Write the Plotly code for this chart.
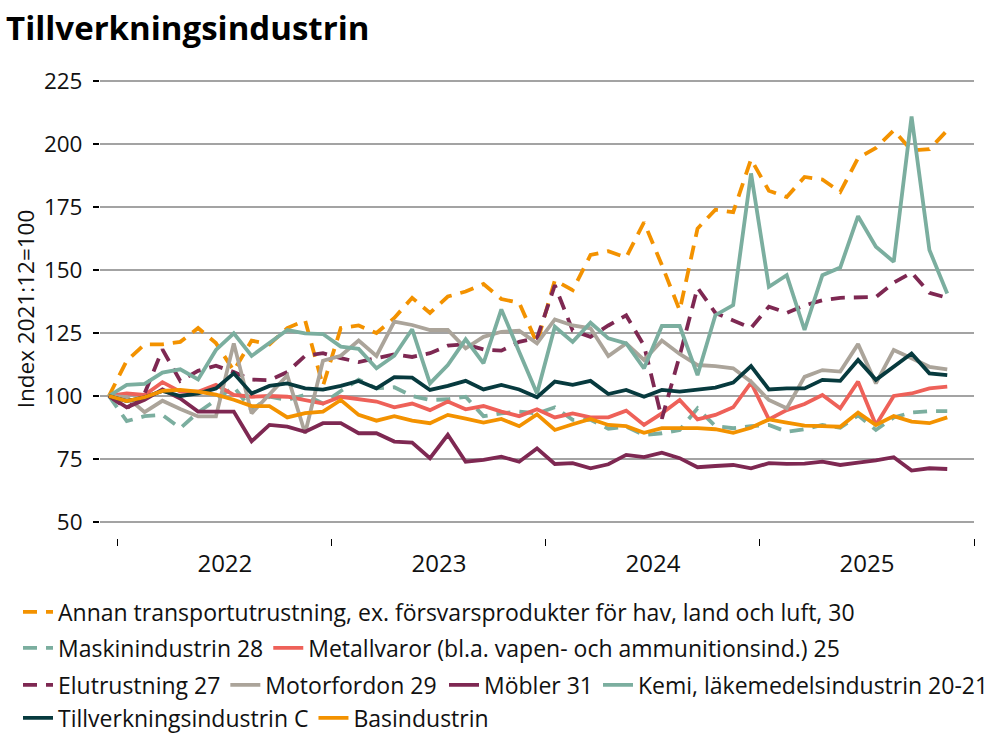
import plotly.graph_objects as go

# ---------------- data ----------------
months = ["2021:12"] + [f"{y}:{m:02d}" for y in range(2022, 2026) for m in range(1, 13)]
years = ["2022", "2023", "2024", "2025"]

annan = [100, 114, 120.5, 120.5, 121.5, 127, 121, 110, 122, 120.5,
         127, 130, 104, 127, 128, 125, 131, 139, 133, 139.5,
         141.5, 144.5, 138.5, 137, 121, 146, 142, 156, 157.5, 155,
         169, 152, 134, 166.5, 174, 173, 194, 181.5, 179, 187,
         186, 181, 194.5, 198.5, 205.5, 197.5, 198, 205.5]
maskin = [100, 90, 92, 92.5, 87.2, 93.5, 98.4, 103.7, 94.4, 99.7,
          98.4, 100.5, 97, 102, 106.5, 103, 103.5, 100, 98.4, 98.7,
          99.7, 92, 93.1, 93.8, 93.1, 95.5, 90.5, 90.5, 87, 87.8,
          84.5, 85.2, 86.5, 95.1, 88, 87.2, 88, 88.5, 85.8, 86.8,
          88.5, 87.4, 92.3, 86.5, 91.5, 93.4, 94, 94]
metall = [100, 101, 100.4, 105.5, 101.7, 101.7, 104.4, 100.4, 99.7, 100,
          99.7, 98.4, 97, 99.7, 98.7, 97.8, 95.5, 97, 94.4, 97.8,
          94.7, 96, 93.8, 92, 94.7, 91.5, 93.1, 91.5, 91.5, 94.2,
          88.5, 93.1, 98.4, 90.7, 92.5, 95.5, 105.3, 90.7, 94.4, 96.8,
          100.4, 95.1, 105.7, 88.5, 100, 101, 103, 103.7]
elut = [100, 95, 101, 118.5, 106, 110, 112, 109.5, 106.5, 106.3,
        109.5, 116, 117, 115, 113.5, 115, 116.5, 115.5, 117, 120,
        120.5, 118.5, 118, 121.5, 123, 144, 126, 123.5, 128, 132,
        120, 91, 116, 143, 133, 130, 127, 135.5, 133, 136,
        138, 139, 139, 139.3, 145, 149, 141, 139]
motor = [100, 99.6, 93.6, 98.1, 94.8, 91.9, 91.9, 120.9, 93.1, 100.4,
         108.2, 85.2, 114, 116, 122, 115.9, 129.5, 128.2, 126.2, 126.2,
         118.9, 123.5, 125.5, 125.9, 120.9, 130.4, 128, 126.9, 115.9, 120.9,
         114.3, 122, 116.7, 112.3, 111.9, 111, 105.7, 98.4, 95.1, 107.6,
         110.3, 109.7, 120.6, 105, 118.3, 115, 111.6, 110.6]
mobler = [100, 95.5, 98.5, 102.6, 99, 93.8, 93.8, 93.8, 82, 88.5,
          87.8, 85.8, 89.2, 89.2, 85.2, 85.2, 81.9, 81.5, 75.3, 84.6,
          73.9, 74.6, 75.9, 73.9, 79.2, 73, 73.3, 71.3, 72.9, 76.6,
          75.7, 77.5, 75.3, 71.7, 72.2, 72.6, 71.3, 73.3, 73, 73.1,
          73.9, 72.6, 73.5, 74.4, 75.7, 70.4, 71.3, 71]
kemi = [100, 104.4, 104.8, 109.3, 110.6, 106.6, 118.3, 124.9, 115.9, 120.9,
        126.2, 124.9, 124.6, 119.6, 118.7, 111, 116, 126.5, 105, 112.3,
        122.5, 113, 134.4, 117.6, 101, 127.5, 121.5, 129.1, 122.9, 120.9,
        111, 127.8, 127.8, 108.3, 132.1, 136.1, 188.4, 143.4, 148, 126.2,
        148, 151, 171.4, 159.3, 153.3, 211, 158, 140.7]
till = [100, 98, 99.5, 102, 100, 101, 103, 109, 101, 104,
        105, 103, 102.5, 104, 106, 103, 107.5, 107.3, 102.4, 104,
        106, 102.6, 104.4, 102.6, 99.5, 105.7, 104.4, 106, 100.8, 102.4,
        99.7, 102.4, 101.7, 102.6, 103.3, 105.3, 111.9, 102.6, 103, 103,
        106.4, 106, 114.3, 106.4, 111.6, 116.9, 109, 108.3]
basin = [100, 98, 99.5, 102, 102.4, 101.7, 100.5, 98.5, 96, 96,
         91.5, 93.2, 93.8, 98.4, 92.5, 90.2, 92, 90.2, 89.2, 92.5,
         91, 89.4, 90.9, 88, 92.7, 86.5, 88.8, 90.9, 88.5, 88,
         85.4, 87.2, 87.2, 87.2, 86.8, 85.4, 87.4, 90.7, 89.4, 88.2,
         88, 87.8, 93.4, 88.5, 92, 89.8, 89.2, 91.5]

names = [
    "Annan transportutrustning, ex. försvarsprodukter för hav, land och luft, 30",
    "Maskinindustrin 28",
    "Metallvaror (bl.a. vapen- och ammunitionsind.) 25",
    "Elutrustning 27",
    "Motorfordon 29",
    "Möbler 31",
    "Kemi, läkemedelsindustrin 20-21",
    "Tillverkningsindustrin C",
    "Basindustrin",
]
values = [annan, maskin, metall, elut, motor, mobler, kemi, till, basin]
y_ticks = [50, 75, 100, 125, 150, 175, 200, 225]

# ---------------- styles ----------------
ORANGE = "#F39200"
TEAL = "#7BAE9F"
SALMON = "#EE6159"
PLUM = "#7E2852"
GREY = "#ABA49A"
DARK = "#073A3E"
DASH = "14px,9px"
colors = [ORANGE, TEAL, SALMON, PLUM, GREY, PLUM, TEAL, DARK, ORANGE]
dashes = [DASH, DASH, "solid", DASH, "solid", "solid", "solid", "solid", "solid"]
legends = ["legend", "legend2", "legend2", "legend3", "legend3", "legend5", "legend5", "legend4", "legend4"]

FONT = "Open Sans"

fig = go.Figure()
for name, vals, col, dsh, lg in zip(names, values, colors, dashes, legends):
    fig.add_trace(go.Scatter(
        x=list(range(len(vals))), y=vals, mode="lines", name=name,
        line=dict(color=col, width=3.8, dash=dsh), legend=lg,
        hoverinfo="skip",
    ))

# year label positions and year boundary ticks from the month list
year_centers = []
boundaries = []
for yr in years:
    idx = [i for i, m in enumerate(months) if m.startswith(yr)]
    year_centers.append(sum(idx) / len(idx))
    boundaries.append(min(idx) - 0.5)
boundaries.append(len(months) - 0.5)


def leg(ypix, xpix=18):
    return dict(orientation="h", xref="container", yref="container",
                xanchor="left", yanchor="middle", x=xpix / 1008, y=(756 - ypix) / 756,
                font=dict(family=FONT, size=23, color="#111"),
                bgcolor="rgba(0,0,0,0)", itemwidth=30, tracegroupgap=0,
                itemclick=False, itemdoubleclick=False)


fig.update_layout(
    width=1008, height=756,
    margin=dict(l=100, r=34, t=80, b=218),
    paper_bgcolor="white", plot_bgcolor="white",
    font=dict(family=FONT, color="#111"),
    showlegend=True,
    title=dict(text="<b>Tillverkningsindustrin</b>", xref="container", yref="container",
               x=0.006, xanchor="left", y=0.962, yanchor="middle",
               font=dict(family=FONT, size=33, color="#000")),
    xaxis=dict(range=[-0.5, len(months) - 0.5], tickmode="array",
               tickvals=year_centers, ticktext=years, ticks="",
               showgrid=False, zeroline=False, showline=False, automargin=False,
               tickfont=dict(family=FONT, size=24, color="#111"),
               ticklabelstandoff=9,
               minor=dict(tickmode="array", tickvals=boundaries, ticks="outside",
                          ticklen=7, tickwidth=1, tickcolor="#000", showgrid=False)),
    yaxis=dict(range=[43.6, 225.5], tickmode="array", tickvals=y_ticks,
               showgrid=True, gridcolor="#A3A3A3", gridwidth=1.5,
               zeroline=False, showline=False, automargin=False,
               ticks="outside", ticklen=6, tickwidth=1.5, tickcolor="#000",
               tickfont=dict(family=FONT, size=22.5, color="#111"),
               ticklabelstandoff=6,
               title=dict(text="Index 2021:12=100", standoff=3,
                          font=dict(family=FONT, size=22.5, color="#111"))),
    legend=leg(612),
    legend2=leg(648),
    legend3=leg(685),
    legend5=leg(685, 444),
    legend4=leg(718),
)

fig.write_html("out.html", config={"displayModeBar": False},
               post_script="document.body.style.margin='0px';")
